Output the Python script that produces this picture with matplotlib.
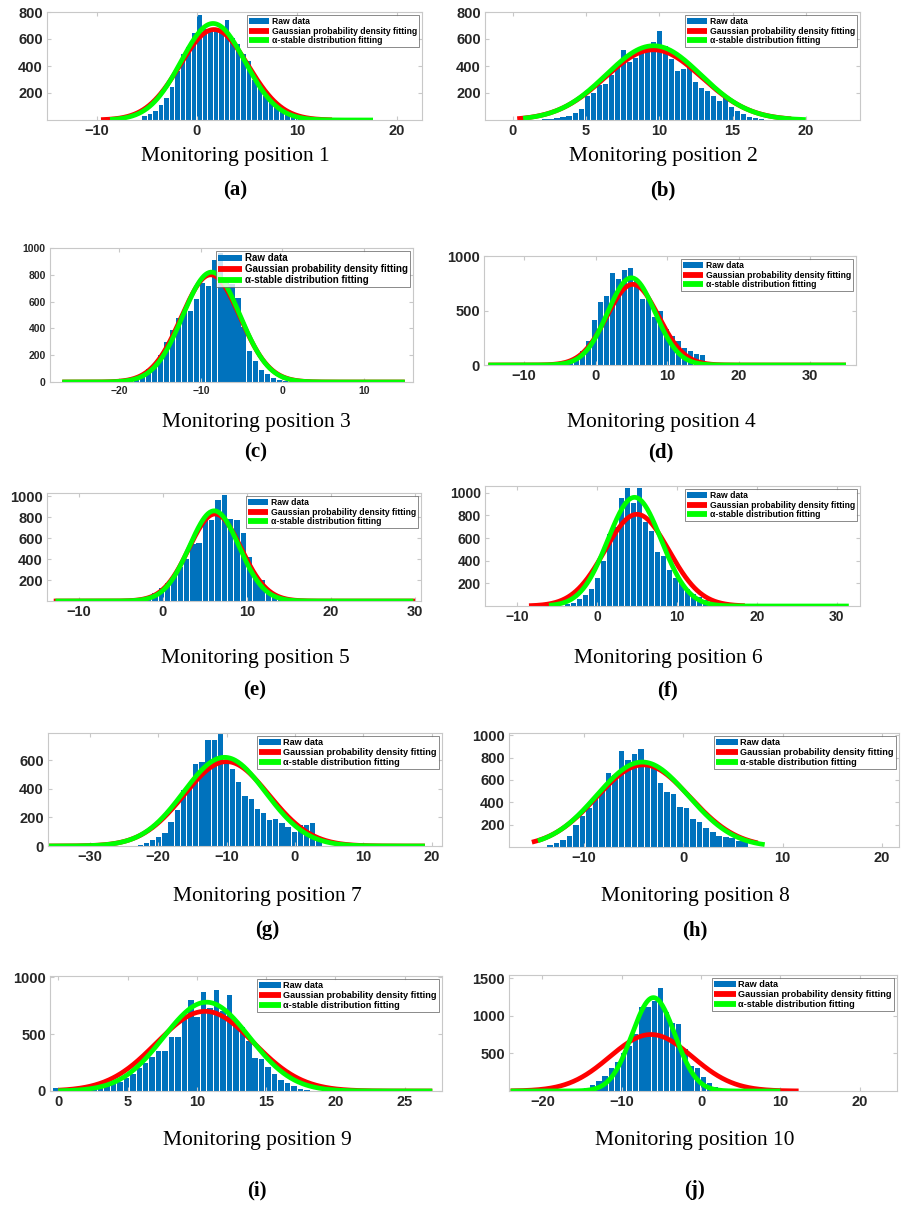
import numpy as np
import matplotlib
matplotlib.use("Agg")
import matplotlib.pyplot as plt
from matplotlib.patches import Patch
from matplotlib.lines import Line2D

# --- raw histogram counts, one list per monitoring position ---
counts_1 = [30, 42, 67, 109, 165, 247, 363, 486, 540, 647, 780, 677, 672, 684, 652, 740,
            610, 560, 490, 440, 300, 250, 178, 141, 104, 79, 54, 37, 25, 17, 10, 6]
counts_2 = [5, 8, 12, 20, 30, 50, 80, 180, 200, 260, 265, 330, 400, 520, 430, 460, 500, 530,
            575, 660, 545, 450, 365, 375, 400, 280, 240, 215, 180, 140, 160, 100, 70, 45, 25, 12, 6]
counts_3 = [30, 40, 60, 100, 130, 200, 300, 390, 480, 530, 530, 620, 740, 720, 910, 960, 740,
            730, 630, 410, 230, 155, 90, 60, 30, 15, 8]
counts_4 = [20, 60, 130, 220, 410, 580, 630, 840, 790, 870, 890, 780, 610, 610, 440, 500,
            330, 270, 220, 160, 130, 100, 90, 20]
counts_5 = [10, 25, 50, 80, 120, 170, 240, 320, 400, 540, 555, 780, 770, 960, 1010, 780, 770,
            650, 420, 240, 200, 100, 70, 40, 20, 10]
counts_6 = [15, 30, 60, 100, 150, 250, 400, 640, 700, 950, 1040, 910, 1040, 740, 660, 480, 440,
            320, 250, 200, 150, 110, 80, 50, 30, 15]
counts_7 = [10, 20, 40, 60, 90, 170, 250, 390, 400, 570, 590, 740, 740, 780, 600, 540, 450, 350,
            330, 260, 230, 180, 190, 160, 130, 100, 150, 150, 160, 65]
counts_8 = [20, 40, 60, 100, 200, 280, 350, 430, 500, 660, 640, 860, 780, 830, 880, 740, 720,
            570, 490, 470, 360, 350, 250, 220, 170, 130, 100, 90, 80, 50, 70]
counts_9 = [30, 15, 15, 20, 25, 30, 35, 40, 50, 70, 80, 110, 150, 200, 250, 300, 350, 350, 470,
            470, 670, 800, 650, 870, 730, 890, 700, 840, 600, 560, 440, 290, 280, 210, 150, 100,
            70, 40, 20, 10]
counts_10 = [20, 40, 80, 130, 200, 300, 380, 500, 600, 760, 1110, 1120, 1190, 1370, 1050, 900,
             890, 560, 330, 300, 180, 100, 50, 20]
all_counts = [counts_1, counts_2, counts_3, counts_4, counts_5,
              counts_6, counts_7, counts_8, counts_9, counts_10]

# first bin centre and bin width
bin_start = [-5.25, 2.2, -18.6, -3.5, -3.2, -3.66, -22.6, -13.4, -0.2, -15.2]
bin_width = [0.55, 0.41, 0.73, 0.84, 0.75, 0.75, 0.9, 0.655, 0.465, 0.775]

# Gaussian fit: mean, sigma, peak height, x-range
gauss_mu = [1.7, 9.6, -8.8, 5.2, 6.2, 5.0, -10.0, -4.0, 10.6, -6.3]
gauss_sigma = [3.4, 3.3, 3.6, 3.6, 3.1, 4.0, 6.2, 4.7, 3.5, 5.2]
gauss_peak = [670, 520, 800, 740, 830, 810, 590, 735, 700, 750]
gauss_range = [(-9.6, 13.5), (0.3, 19.0), (-27, 15), (-15, 35), (-13, 30),
               (-8.5, 18.5), (-36, 19), (-15.2, 7.5), (0, 27), (-24, 12.3)]

# alpha-stable fit: location, scale, peak height, x-range
stable_mu = [1.6, 9.6, -8.7, 5.0, 6.1, 4.7, -10.3, -4.1, 10.7, -6.0]
stable_sigma = [3.2, 3.25, 3.5, 3.3, 2.95, 3.35, 6.0, 4.6, 3.1, 2.7]
stable_peak = [715, 550, 820, 800, 860, 960, 620, 760, 780, 1240]
stable_range = [(-8.7, 17.6), (0.7, 20), (-27, 15), (-15, 35), (-12.8, 29.8),
                (-6, 31.5), (-36, 19), (-14.6, 8.2), (0, 27), (-24, 10)]

titles = ["Monitoring position %d" % i for i in range(1, 11)]
letters = ["(a)", "(b)", "(c)", "(d)", "(e)", "(f)", "(g)", "(h)", "(i)", "(j)"]

x_limits = [(-15, 22.5), (-1.9, 23.7), (-28.5, 16), (-15.6, 36.4), (-13.8, 30.7),
            (-14, 32.9), (-36.1, 21.5), (-17.5, 21.7), (-0.6, 27.7), (-24.2, 24.7)]
y_limits = [800, 800, 1000, 1000, 1030, 1060, 790, 1020, 1010, 1540]
x_ticks = [[-10, 0, 10, 20], [0, 5, 10, 15, 20], [-20, -10, 0, 10], [-10, 0, 10, 20, 30],
           [-10, 0, 10, 20, 30], [-10, 0, 10, 20, 30], [-30, -20, -10, 0, 10, 20],
           [-10, 0, 10, 20], [0, 5, 10, 15, 20, 25], [-20, -10, 0, 10, 20]]
y_ticks = [[200, 400, 600, 800], [200, 400, 600, 800], [0, 200, 400, 600, 800, 1000],
           [0, 500, 1000], [200, 400, 600, 800, 1000], [200, 400, 600, 800, 1000],
           [0, 200, 400, 600], [200, 400, 600, 800, 1000], [0, 500, 1000], [500, 1000, 1500]]

# axes boxes in pixels: left, top, right, bottom
W, H = 904, 1208
boxes = [(47, 12, 422, 120), (485, 12, 860, 120), (50, 248, 413, 382), (484, 256, 856, 365),
         (47, 493, 421, 601), (485, 486, 860, 606), (48, 733, 442, 846), (509, 733, 899, 847),
         (50, 976, 442, 1091), (509, 975, 897, 1091)]
caption_pos = [(235, 157, 190), (663, 157, 190), (256, 422, 452), (661, 422, 452),
               (255, 659, 690), (668, 659, 690), (267, 897, 930), (695, 897, 930),
               (257, 1140, 1190), (695, 1140, 1190)]
tick_size = [10.5, 10.5, 7.5, 10.5, 10.5, 10, 10.5, 10.5, 10.5, 10.5]
legend_size = [6.2, 6.2, 7.0, 6.2, 6.2, 6.2, 6.6, 6.6, 6.6, 6.6]

BLUE = "#0072BD"

fig = plt.figure(figsize=(W / 100, H / 100), dpi=100)

for k in range(10):
    l, t, r, b = boxes[k]
    ax = fig.add_axes([l / W, 1 - b / H, (r - l) / W, (b - t) / H])

    counts = np.array(all_counts[k])
    centres = bin_start[k] + bin_width[k] * np.arange(len(counts))
    ax.bar(centres, counts, width=bin_width[k] * 0.86, color=BLUE, linewidth=0)

    xg = np.linspace(gauss_range[k][0], gauss_range[k][1], 400)
    yg = gauss_peak[k] * np.exp(-0.5 * ((xg - gauss_mu[k]) / gauss_sigma[k]) ** 2)
    ax.plot(xg, yg, color="#ff0000", lw=3.4, solid_capstyle="butt")

    xs = np.linspace(stable_range[k][0], stable_range[k][1], 400)
    ys = stable_peak[k] * np.exp(-0.5 * ((xs - stable_mu[k]) / stable_sigma[k]) ** 2)
    ax.plot(xs, ys, color="#00ff00", lw=3.4, solid_capstyle="butt")

    ax.set_xlim(*x_limits[k])
    ax.set_ylim(0, y_limits[k])
    ax.set_xticks(x_ticks[k])
    ax.set_yticks(y_ticks[k])
    for s in ax.spines.values():
        s.set_color("#c8c8c8")
        s.set_linewidth(0.8)
    ax.tick_params(direction="in", top=True, right=True, length=3, color="#c8c8c8",
                   labelsize=tick_size[k], labelcolor="#262626", pad=3)
    for lab in ax.get_xticklabels() + ax.get_yticklabels():
        lab.set_fontweight("bold")
        lab.set_family("Liberation Sans")

    handles = [Patch(facecolor=BLUE, edgecolor="none"),
               Line2D([], [], color="#ff0000", lw=4.2, solid_capstyle="butt"),
               Line2D([], [], color="#00ff00", lw=4.2, solid_capstyle="butt")]
    leg = ax.legend(handles, ["Raw data", "Gaussian probability density fitting",
                              "α-stable distribution fitting"],
                    loc="upper right", frameon=True, fancybox=False,
                    borderaxespad=0.35, borderpad=0.2, labelspacing=0.1,
                    handlelength=2.4, handletextpad=0.3,
                    prop={"family": "Liberation Sans", "weight": "bold",
                          "size": legend_size[k]})
    leg.get_frame().set_edgecolor("#555555")
    leg.get_frame().set_linewidth(0.6)

    cx, ty, ly = caption_pos[k]
    fig.text(cx / W, 1 - ty / H, titles[k], ha="center", va="center",
             family="Liberation Serif", fontsize=15.5)
    fig.text(cx / W, 1 - ly / H, letters[k], ha="center", va="center",
             family="Liberation Serif", fontsize=15, fontweight="bold")

fig.savefig("out.png", dpi=100)
